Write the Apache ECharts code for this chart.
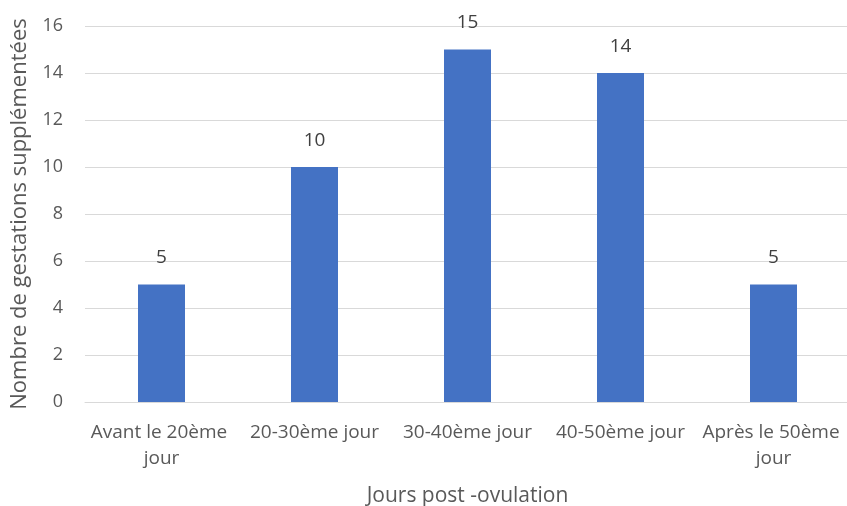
<!DOCTYPE html>
<html>
<head>
<meta charset="utf-8">
<script src="https://cdn.jsdelivr.net/npm/echarts@6/dist/echarts.min.js"></script>
<style>html,body{margin:0;padding:0;background:#fff}#c{width:847px;height:506px}</style>
</head>
<body>
<div id="c"></div>
<script>
const categories = ["Avant le 20ème jour", "20-30ème jour", "30-40ème jour", "40-50ème jour", "Après le 50ème jour"];
const values = [5, 10, 15, 14, 5];
const xTitle = "Jours post -ovulation";
const yTitle = "Nombre de gestations supplémentées";

const font = "'Open Sans', 'Noto Sans', sans-serif";
const chart = echarts.init(document.getElementById('c'));
chart.setOption({
  animation: false,
  grid: { left: 85, right: -3, top: 26, bottom: 104, containLabel: false, outerBoundsMode: 'none' },
  xAxis: {
    type: 'category',
    data: categories,
    name: xTitle,
    nameLocation: 'middle',
    nameGap: 84,
    nameTextStyle: { fontFamily: font, fontSize: 21, color: '#595959' },
    axisLine: { lineStyle: { color: '#d9d9d9', width: 1 } },
    axisTick: { show: false },
    axisLabel: { fontFamily: font, fontSize: 19, color: '#595959', margin: 18, width: 162, overflow: 'break', lineHeight: 26, interval: 0 }
  },
  yAxis: {
    type: 'value',
    min: 0, max: 16, interval: 2,
    name: yTitle,
    nameLocation: 'middle',
    nameGap: 54,
    nameTextStyle: { fontFamily: font, fontSize: 22, color: '#595959' },
    axisLine: { show: false },
    axisTick: { show: false },
    splitLine: { lineStyle: { color: '#d9d9d9', width: 1 } },
    axisLabel: { fontFamily: font, fontSize: 18, color: '#595959', margin: 22 }
  },
  series: [{
    type: 'bar',
    data: values,
    barWidth: 47,
    itemStyle: { color: '#4472C4' },
    label: { show: true, position: 'top', distance: 17, fontFamily: font, fontSize: 19, color: '#404040' }
  }]
});
</script>
</body>
</html>
